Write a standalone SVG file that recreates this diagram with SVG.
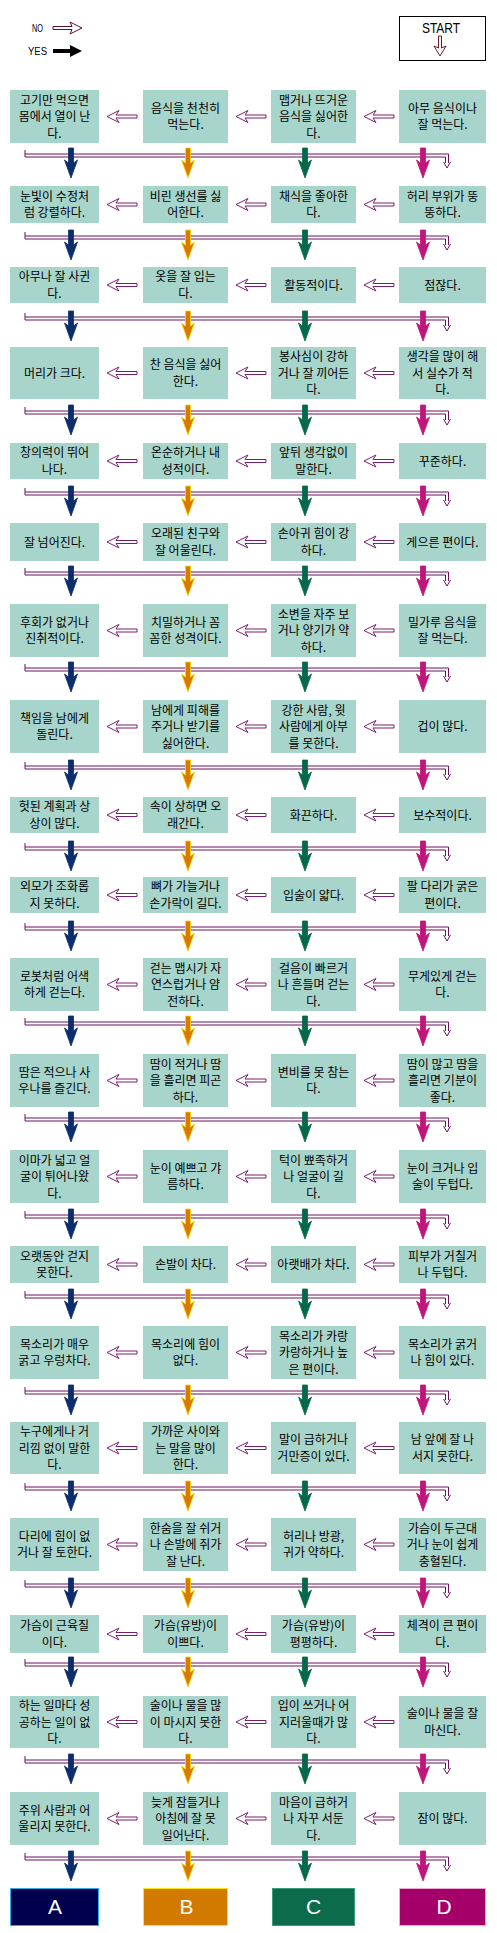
<svg xmlns="http://www.w3.org/2000/svg" xmlns:xlink="http://www.w3.org/1999/xlink" width="497" height="1933" viewBox="0 0 497 1933">
<style>
.bx{fill:#a8d5cb}
.t{font-family:"Noto Sans CJK KR","Noto Sans",sans-serif;font-size:12px;fill:#000;text-anchor:middle}
.lg{font-family:"Liberation Sans",Arial,sans-serif;fill:#000}
.ha{fill:#fff;stroke:#7a1f6e;stroke-width:1}
.bar{fill:none;stroke:#6b1060;stroke-width:1}
.va{stroke-width:0.8}
.ca{fill:#0c2d6b;stroke:#0c2d6b}
.cb{fill:#d87a00;stroke:#ffd800}
.cc{fill:#05684a;stroke:#05684a}
.cd{fill:#c0157a;stroke:#c0157a}
.res{font-family:"Liberation Sans",Arial,sans-serif;font-size:21px;fill:#fff;text-anchor:middle}
</style>
<defs>
<path id="harr" d="M0,0 L12,-6 L9,-1.5 L30,-1.5 L30,1.5 L9,1.5 L12,6 Z"/>
<path id="varr" d="M-2.5,-6 H2.5 V9 L6.5,6 L0,24 L-6.5,6 L-2.5,9 Z"/>
<g id="bar"><path d="M25,-4 V3 H445.5 V9 M25,0 H448.5 V9 M443.5,8 L447,14 L450.5,8"/></g>
</defs>
<rect width="497" height="1933" fill="#fff"/>

<g id="legend">
<text class="lg" x="32" y="32" font-size="11" textLength="11" lengthAdjust="spacingAndGlyphs">NO</text>
<path d="M53,26.5 H72 L70,22 L82,28 L70,34 L72,29.5 H53 Z" fill="#fff" stroke="#5a1030" stroke-width="1"/>
<text class="lg" x="28" y="55" font-size="11" textLength="19" lengthAdjust="spacingAndGlyphs">YES</text>
<path d="M53,49 H70 V45 L82,51 L70,57 V53 H53 Z" fill="#000"/>
</g>

<g id="start">
<rect x="399.5" y="16.5" width="86" height="44" fill="#fff" stroke="#000" stroke-width="1"/>
<text class="lg" x="422" y="33" font-size="14" textLength="38" lengthAdjust="spacingAndGlyphs">START</text>
<path d="M438.5,36 V48 L434,46 L440,56 L446,46 L441.5,48 V36 Z" fill="#fff" stroke="#6a1a30" stroke-width="1"/>
</g>

<g id="connectors">
<g class="bar">
<use xlink:href="#bar" y="154"/><use xlink:href="#bar" y="236"/><use xlink:href="#bar" y="317"/><use xlink:href="#bar" y="411"/><use xlink:href="#bar" y="492"/>
<use xlink:href="#bar" y="572"/><use xlink:href="#bar" y="668"/><use xlink:href="#bar" y="766"/><use xlink:href="#bar" y="847"/><use xlink:href="#bar" y="927"/>
<use xlink:href="#bar" y="1022"/><use xlink:href="#bar" y="1118"/><use xlink:href="#bar" y="1215"/><use xlink:href="#bar" y="1295"/><use xlink:href="#bar" y="1391"/>
<use xlink:href="#bar" y="1487"/><use xlink:href="#bar" y="1584"/><use xlink:href="#bar" y="1663"/><use xlink:href="#bar" y="1760"/><use xlink:href="#bar" y="1857"/>
</g>
<g class="ha">
<use xlink:href="#harr" x="107" y="116.5"/><use xlink:href="#harr" x="236" y="116.5"/><use xlink:href="#harr" x="364" y="116.5"/>
<use xlink:href="#harr" x="107" y="204.5"/><use xlink:href="#harr" x="236" y="204.5"/><use xlink:href="#harr" x="364" y="204.5"/>
<use xlink:href="#harr" x="107" y="285"/><use xlink:href="#harr" x="236" y="285"/><use xlink:href="#harr" x="364" y="285"/>
<use xlink:href="#harr" x="107" y="373"/><use xlink:href="#harr" x="236" y="373"/><use xlink:href="#harr" x="364" y="373"/>
<use xlink:href="#harr" x="107" y="461"/><use xlink:href="#harr" x="236" y="461"/><use xlink:href="#harr" x="364" y="461"/>
<use xlink:href="#harr" x="107" y="542"/><use xlink:href="#harr" x="236" y="542"/><use xlink:href="#harr" x="364" y="542"/>
<use xlink:href="#harr" x="107" y="630.5"/><use xlink:href="#harr" x="236" y="630.5"/><use xlink:href="#harr" x="364" y="630.5"/>
<use xlink:href="#harr" x="107" y="726.5"/><use xlink:href="#harr" x="236" y="726.5"/><use xlink:href="#harr" x="364" y="726.5"/>
<use xlink:href="#harr" x="107" y="815"/><use xlink:href="#harr" x="236" y="815"/><use xlink:href="#harr" x="364" y="815"/>
<use xlink:href="#harr" x="107" y="895"/><use xlink:href="#harr" x="236" y="895"/><use xlink:href="#harr" x="364" y="895"/>
<use xlink:href="#harr" x="107" y="984.5"/><use xlink:href="#harr" x="236" y="984.5"/><use xlink:href="#harr" x="364" y="984.5"/>
<use xlink:href="#harr" x="107" y="1080.5"/><use xlink:href="#harr" x="236" y="1080.5"/><use xlink:href="#harr" x="364" y="1080.5"/>
<use xlink:href="#harr" x="107" y="1176.5"/><use xlink:href="#harr" x="236" y="1176.5"/><use xlink:href="#harr" x="364" y="1176.5"/>
<use xlink:href="#harr" x="107" y="1264.5"/><use xlink:href="#harr" x="236" y="1264.5"/><use xlink:href="#harr" x="364" y="1264.5"/>
<use xlink:href="#harr" x="107" y="1352.5"/><use xlink:href="#harr" x="236" y="1352.5"/><use xlink:href="#harr" x="364" y="1352.5"/>
<use xlink:href="#harr" x="107" y="1448"/><use xlink:href="#harr" x="236" y="1448"/><use xlink:href="#harr" x="364" y="1448"/>
<use xlink:href="#harr" x="107" y="1544.5"/><use xlink:href="#harr" x="236" y="1544.5"/><use xlink:href="#harr" x="364" y="1544.5"/>
<use xlink:href="#harr" x="107" y="1634"/><use xlink:href="#harr" x="236" y="1634"/><use xlink:href="#harr" x="364" y="1634"/>
<use xlink:href="#harr" x="107" y="1722"/><use xlink:href="#harr" x="236" y="1722"/><use xlink:href="#harr" x="364" y="1722"/>
<use xlink:href="#harr" x="107" y="1818.5"/><use xlink:href="#harr" x="236" y="1818.5"/><use xlink:href="#harr" x="364" y="1818.5"/>
</g>
<g class="va ca">
<use xlink:href="#varr" x="71" y="154"/><use xlink:href="#varr" x="71" y="236"/><use xlink:href="#varr" x="71" y="317"/><use xlink:href="#varr" x="71" y="411"/><use xlink:href="#varr" x="71" y="492"/>
<use xlink:href="#varr" x="71" y="572"/><use xlink:href="#varr" x="71" y="668"/><use xlink:href="#varr" x="71" y="766"/><use xlink:href="#varr" x="71" y="847"/><use xlink:href="#varr" x="71" y="927"/>
<use xlink:href="#varr" x="71" y="1022"/><use xlink:href="#varr" x="71" y="1118"/><use xlink:href="#varr" x="71" y="1215"/><use xlink:href="#varr" x="71" y="1295"/><use xlink:href="#varr" x="71" y="1391"/>
<use xlink:href="#varr" x="71" y="1487"/><use xlink:href="#varr" x="71" y="1584"/><use xlink:href="#varr" x="71" y="1663"/><use xlink:href="#varr" x="71" y="1760"/><use xlink:href="#varr" x="71" y="1857"/>
</g>
<g class="va cb">
<use xlink:href="#varr" x="188" y="154"/><use xlink:href="#varr" x="188" y="236"/><use xlink:href="#varr" x="188" y="317"/><use xlink:href="#varr" x="188" y="411"/><use xlink:href="#varr" x="188" y="492"/>
<use xlink:href="#varr" x="188" y="572"/><use xlink:href="#varr" x="188" y="668"/><use xlink:href="#varr" x="188" y="766"/><use xlink:href="#varr" x="188" y="847"/><use xlink:href="#varr" x="188" y="927"/>
<use xlink:href="#varr" x="188" y="1022"/><use xlink:href="#varr" x="188" y="1118"/><use xlink:href="#varr" x="188" y="1215"/><use xlink:href="#varr" x="188" y="1295"/><use xlink:href="#varr" x="188" y="1391"/>
<use xlink:href="#varr" x="188" y="1487"/><use xlink:href="#varr" x="188" y="1584"/><use xlink:href="#varr" x="188" y="1663"/><use xlink:href="#varr" x="188" y="1760"/><use xlink:href="#varr" x="188" y="1857"/>
</g>
<g class="va cc">
<use xlink:href="#varr" x="305" y="154"/><use xlink:href="#varr" x="305" y="236"/><use xlink:href="#varr" x="305" y="317"/><use xlink:href="#varr" x="305" y="411"/><use xlink:href="#varr" x="305" y="492"/>
<use xlink:href="#varr" x="305" y="572"/><use xlink:href="#varr" x="305" y="668"/><use xlink:href="#varr" x="305" y="766"/><use xlink:href="#varr" x="305" y="847"/><use xlink:href="#varr" x="305" y="927"/>
<use xlink:href="#varr" x="305" y="1022"/><use xlink:href="#varr" x="305" y="1118"/><use xlink:href="#varr" x="305" y="1215"/><use xlink:href="#varr" x="305" y="1295"/><use xlink:href="#varr" x="305" y="1391"/>
<use xlink:href="#varr" x="305" y="1487"/><use xlink:href="#varr" x="305" y="1584"/><use xlink:href="#varr" x="305" y="1663"/><use xlink:href="#varr" x="305" y="1760"/><use xlink:href="#varr" x="305" y="1857"/>
</g>
<g class="va cd">
<use xlink:href="#varr" x="423" y="154"/><use xlink:href="#varr" x="423" y="236"/><use xlink:href="#varr" x="423" y="317"/><use xlink:href="#varr" x="423" y="411"/><use xlink:href="#varr" x="423" y="492"/>
<use xlink:href="#varr" x="423" y="572"/><use xlink:href="#varr" x="423" y="668"/><use xlink:href="#varr" x="423" y="766"/><use xlink:href="#varr" x="423" y="847"/><use xlink:href="#varr" x="423" y="927"/>
<use xlink:href="#varr" x="423" y="1022"/><use xlink:href="#varr" x="423" y="1118"/><use xlink:href="#varr" x="423" y="1215"/><use xlink:href="#varr" x="423" y="1295"/><use xlink:href="#varr" x="423" y="1391"/>
<use xlink:href="#varr" x="423" y="1487"/><use xlink:href="#varr" x="423" y="1584"/><use xlink:href="#varr" x="423" y="1663"/><use xlink:href="#varr" x="423" y="1760"/><use xlink:href="#varr" x="423" y="1857"/>
</g>
</g>

<!-- Row 1: 90-143 -->
<g id="n1a"><rect class="bx" x="10" y="90" width="89" height="53"/><text class="t" x="54.5" y="104.5">고기만 먹으면<tspan x="54.5" dy="16.5">몸에서 열이 난</tspan><tspan x="54.5" dy="16.5">다.</tspan></text></g>
<g id="n1b"><rect class="bx" x="143" y="90" width="85" height="53"/><text class="t" x="185.5" y="112.75">음식을 천천히<tspan x="185.5" dy="16.5">먹는다.</tspan></text></g>
<g id="n1c"><rect class="bx" x="271" y="90" width="85" height="53"/><text class="t" x="313.5" y="104.5">맵거나 뜨거운<tspan x="313.5" dy="16.5">음식을 싫어한</tspan><tspan x="313.5" dy="16.5">다.</tspan></text></g>
<g id="n1d"><rect class="bx" x="399" y="90" width="87" height="53"/><text class="t" x="442.5" y="112.75">아무 음식이나<tspan x="442.5" dy="16.5">잘 먹는다.</tspan></text></g>

<!-- Row 2: 186-223 -->
<g id="n2a"><rect class="bx" x="10" y="186" width="89" height="37"/><text class="t" x="54.5" y="200.75">눈빛이 수정처<tspan x="54.5" dy="16.5">럼 강렬하다.</tspan></text></g>
<g id="n2b"><rect class="bx" x="143" y="186" width="85" height="37"/><text class="t" x="185.5" y="200.75">비린 생선를 싫<tspan x="185.5" dy="16.5">어한다.</tspan></text></g>
<g id="n2c"><rect class="bx" x="271" y="186" width="85" height="37"/><text class="t" x="313.5" y="200.75">채식을 좋아한<tspan x="313.5" dy="16.5">다.</tspan></text></g>
<g id="n2d"><rect class="bx" x="399" y="186" width="87" height="37"/><text class="t" x="442.5" y="200.75">허리 부위가 뚱<tspan x="442.5" dy="16.5">뚱하다.</tspan></text></g>

<!-- Row 3: 267-303 -->
<g id="n3a"><rect class="bx" x="10" y="267" width="89" height="36"/><text class="t" x="54.5" y="281.25">아무나 잘 사귄<tspan x="54.5" dy="16.5">다.</tspan></text></g>
<g id="n3b"><rect class="bx" x="143" y="267" width="85" height="36"/><text class="t" x="185.5" y="281.25">옷을 잘 입는<tspan x="185.5" dy="16.5">다.</tspan></text></g>
<g id="n3c"><rect class="bx" x="271" y="267" width="85" height="36"/><text class="t" x="313.5" y="289.5">활동적이다.</text></g>
<g id="n3d"><rect class="bx" x="399" y="267" width="87" height="36"/><text class="t" x="442.5" y="289.5">점잖다.</text></g>

<!-- Row 4: 347-399 -->
<g id="n4a"><rect class="bx" x="10" y="347" width="89" height="52"/><text class="t" x="54.5" y="377.5">머리가 크다.</text></g>
<g id="n4b"><rect class="bx" x="143" y="347" width="85" height="52"/><text class="t" x="185.5" y="369.25">찬 음식을 싫어<tspan x="185.5" dy="16.5">한다.</tspan></text></g>
<g id="n4c"><rect class="bx" x="271" y="347" width="85" height="52"/><text class="t" x="313.5" y="361">봉사심이 강하<tspan x="313.5" dy="16.5">거나 잘 끼어든</tspan><tspan x="313.5" dy="16.5">다.</tspan></text></g>
<g id="n4d"><rect class="bx" x="399" y="347" width="87" height="52"/><text class="t" x="442.5" y="361">생각을 많이 해<tspan x="442.5" dy="16.5">서 실수가 적</tspan><tspan x="442.5" dy="16.5">다.</tspan></text></g>

<!-- Row 5: 443-479 -->
<g id="n5a"><rect class="bx" x="10" y="443" width="89" height="36"/><text class="t" x="54.5" y="457.25">창의력이 뛰어<tspan x="54.5" dy="16.5">나다.</tspan></text></g>
<g id="n5b"><rect class="bx" x="143" y="443" width="85" height="36"/><text class="t" x="185.5" y="457.25">온순하거나 내<tspan x="185.5" dy="16.5">성적이다.</tspan></text></g>
<g id="n5c"><rect class="bx" x="271" y="443" width="85" height="36"/><text class="t" x="313.5" y="457.25">앞뒤 생각없이<tspan x="313.5" dy="16.5">말한다.</tspan></text></g>
<g id="n5d"><rect class="bx" x="399" y="443" width="87" height="36"/><text class="t" x="442.5" y="465.5">꾸준하다.</text></g>

<!-- Row 6: 523-561 -->
<g id="n6a"><rect class="bx" x="10" y="523" width="89" height="38"/><text class="t" x="54.5" y="546.5">잘 넘어진다.</text></g>
<g id="n6b"><rect class="bx" x="143" y="523" width="85" height="38"/><text class="t" x="185.5" y="538.25">오래된 친구와<tspan x="185.5" dy="16.5">잘 어울린다.</tspan></text></g>
<g id="n6c"><rect class="bx" x="271" y="523" width="85" height="38"/><text class="t" x="313.5" y="538.25">손아귀 힘이 강<tspan x="313.5" dy="16.5">하다.</tspan></text></g>
<g id="n6d"><rect class="bx" x="399" y="523" width="87" height="38"/><text class="t" x="442.5" y="546.5">게으른 편이다.</text></g>

<!-- Row 7: 604-657 -->
<g id="n7a"><rect class="bx" x="10" y="604" width="89" height="53"/><text class="t" x="54.5" y="626.75">후회가 없거나<tspan x="54.5" dy="16.5">진취적이다.</tspan></text></g>
<g id="n7b"><rect class="bx" x="143" y="604" width="85" height="53"/><text class="t" x="185.5" y="626.75">치밀하거나 꼼<tspan x="185.5" dy="16.5">꼼한 성격이다.</tspan></text></g>
<g id="n7c"><rect class="bx" x="271" y="604" width="85" height="53"/><text class="t" x="313.5" y="618.5">소변을 자주 보<tspan x="313.5" dy="16.5">거나 양기가 약</tspan><tspan x="313.5" dy="16.5">하다.</tspan></text></g>
<g id="n7d"><rect class="bx" x="399" y="604" width="87" height="53"/><text class="t" x="442.5" y="626.75">밀가루 음식을<tspan x="442.5" dy="16.5">잘 먹는다.</tspan></text></g>

<!-- Row 8: 700-753 -->
<g id="n8a"><rect class="bx" x="10" y="700" width="89" height="53"/><text class="t" x="54.5" y="722.75">책임을 남에게<tspan x="54.5" dy="16.5">돌린다.</tspan></text></g>
<g id="n8b"><rect class="bx" x="143" y="700" width="85" height="53"/><text class="t" x="185.5" y="714.5">남에게 피해를<tspan x="185.5" dy="16.5">주거나 받기를</tspan><tspan x="185.5" dy="16.5">싫어한다.</tspan></text></g>
<g id="n8c"><rect class="bx" x="271" y="700" width="85" height="53"/><text class="t" x="313.5" y="714.5">강한 사람, 윗<tspan x="313.5" dy="16.5">사람에게 아부</tspan><tspan x="313.5" dy="16.5">를 못한다.</tspan></text></g>
<g id="n8d"><rect class="bx" x="399" y="700" width="87" height="53"/><text class="t" x="442.5" y="731">겁이 많다.</text></g>

<!-- Row 9: 797-833 -->
<g id="n9a"><rect class="bx" x="10" y="797" width="89" height="36"/><text class="t" x="54.5" y="811.25">헛된 계획과 상<tspan x="54.5" dy="16.5">상이 많다.</tspan></text></g>
<g id="n9b"><rect class="bx" x="143" y="797" width="85" height="36"/><text class="t" x="185.5" y="811.25">속이 상하면 오<tspan x="185.5" dy="16.5">래간다.</tspan></text></g>
<g id="n9c"><rect class="bx" x="271" y="797" width="85" height="36"/><text class="t" x="313.5" y="819.5">화끈하다.</text></g>
<g id="n9d"><rect class="bx" x="399" y="797" width="87" height="36"/><text class="t" x="442.5" y="819.5">보수적이다.</text></g>

<!-- Row 10: 877-913 -->
<g id="n10a"><rect class="bx" x="10" y="877" width="89" height="36"/><text class="t" x="54.5" y="891.25">외모가 조화롭<tspan x="54.5" dy="16.5">지 못하다.</tspan></text></g>
<g id="n10b"><rect class="bx" x="143" y="877" width="85" height="36"/><text class="t" x="185.5" y="891.25">뼈가 가늘거나<tspan x="185.5" dy="16.5">손가락이 길다.</tspan></text></g>
<g id="n10c"><rect class="bx" x="271" y="877" width="85" height="36"/><text class="t" x="313.5" y="899.5">입술이 얇다.</text></g>
<g id="n10d"><rect class="bx" x="399" y="877" width="87" height="36"/><text class="t" x="442.5" y="891.25">팔 다리가 굵은<tspan x="442.5" dy="16.5">편이다.</tspan></text></g>

<!-- Row 11: 958-1011 -->
<g id="n11a"><rect class="bx" x="10" y="958" width="89" height="53"/><text class="t" x="54.5" y="980.75">로봇처럼 어색<tspan x="54.5" dy="16.5">하게 걷는다.</tspan></text></g>
<g id="n11b"><rect class="bx" x="143" y="958" width="85" height="53"/><text class="t" x="185.5" y="972.5">걷는 맵시가 자<tspan x="185.5" dy="16.5">연스럽거나 얌</tspan><tspan x="185.5" dy="16.5">전하다.</tspan></text></g>
<g id="n11c"><rect class="bx" x="271" y="958" width="85" height="53"/><text class="t" x="313.5" y="972.5">걸음이 빠르거<tspan x="313.5" dy="16.5">나 흔들며 걷는</tspan><tspan x="313.5" dy="16.5">다.</tspan></text></g>
<g id="n11d"><rect class="bx" x="399" y="958" width="87" height="53"/><text class="t" x="442.5" y="980.75">무게있게 걷는<tspan x="442.5" dy="16.5">다.</tspan></text></g>

<!-- Row 12: 1054-1107 -->
<g id="n12a"><rect class="bx" x="10" y="1054" width="89" height="53"/><text class="t" x="54.5" y="1076.75">땀은 적으나 사<tspan x="54.5" dy="16.5">우나를 즐긴다.</tspan></text></g>
<g id="n12b"><rect class="bx" x="143" y="1054" width="85" height="53"/><text class="t" x="185.5" y="1068.5">땀이 적거나 땀<tspan x="185.5" dy="16.5">을 흘리면 피곤</tspan><tspan x="185.5" dy="16.5">하다.</tspan></text></g>
<g id="n12c"><rect class="bx" x="271" y="1054" width="85" height="53"/><text class="t" x="313.5" y="1076.75">변비를 못 참는<tspan x="313.5" dy="16.5">다.</tspan></text></g>
<g id="n12d"><rect class="bx" x="399" y="1054" width="87" height="53"/><text class="t" x="442.5" y="1068.5">땀이 많고 땀을<tspan x="442.5" dy="16.5">흘리면 기분이</tspan><tspan x="442.5" dy="16.5">좋다.</tspan></text></g>

<!-- Row 13: 1150-1203 -->
<g id="n13a"><rect class="bx" x="10" y="1150" width="89" height="53"/><text class="t" x="54.5" y="1164.5">이마가 넓고 얼<tspan x="54.5" dy="16.5">굴이 튀어나왔</tspan><tspan x="54.5" dy="16.5">다.</tspan></text></g>
<g id="n13b"><rect class="bx" x="143" y="1150" width="85" height="53"/><text class="t" x="185.5" y="1172.75">눈이 예쁘고 갸<tspan x="185.5" dy="16.5">름하다.</tspan></text></g>
<g id="n13c"><rect class="bx" x="271" y="1150" width="85" height="53"/><text class="t" x="313.5" y="1164.5">턱이 뾰족하거<tspan x="313.5" dy="16.5">나 얼굴이 길</tspan><tspan x="313.5" dy="16.5">다.</tspan></text></g>
<g id="n13d"><rect class="bx" x="399" y="1150" width="87" height="53"/><text class="t" x="442.5" y="1172.75">눈이 크거나 입<tspan x="442.5" dy="16.5">술이 두텁다.</tspan></text></g>

<!-- Row 14: 1246-1283 -->
<g id="n14a"><rect class="bx" x="10" y="1246" width="89" height="37"/><text class="t" x="54.5" y="1260.75">오랫동안 걷지<tspan x="54.5" dy="16.5">못한다.</tspan></text></g>
<g id="n14b"><rect class="bx" x="143" y="1246" width="85" height="37"/><text class="t" x="185.5" y="1269">손발이 차다.</text></g>
<g id="n14c"><rect class="bx" x="271" y="1246" width="85" height="37"/><text class="t" x="313.5" y="1269">아랫배가 차다.</text></g>
<g id="n14d"><rect class="bx" x="399" y="1246" width="87" height="37"/><text class="t" x="442.5" y="1260.75">피부가 거칠거<tspan x="442.5" dy="16.5">나 두텁다.</tspan></text></g>

<!-- Row 15: 1326-1379 -->
<g id="n15a"><rect class="bx" x="10" y="1326" width="89" height="53"/><text class="t" x="54.5" y="1348.75">목소리가 매우<tspan x="54.5" dy="16.5">굵고 우렁차다.</tspan></text></g>
<g id="n15b"><rect class="bx" x="143" y="1326" width="85" height="53"/><text class="t" x="185.5" y="1348.75">목소리에 힘이<tspan x="185.5" dy="16.5">없다.</tspan></text></g>
<g id="n15c"><rect class="bx" x="271" y="1326" width="85" height="53"/><text class="t" x="313.5" y="1340.5">목소리가 카랑<tspan x="313.5" dy="16.5">카랑하거나 높</tspan><tspan x="313.5" dy="16.5">은 편이다.</tspan></text></g>
<g id="n15d"><rect class="bx" x="399" y="1326" width="87" height="53"/><text class="t" x="442.5" y="1348.75">목소리가 굵거<tspan x="442.5" dy="16.5">나 힘이 있다.</tspan></text></g>

<!-- Row 16: 1422-1474 -->
<g id="n16a"><rect class="bx" x="10" y="1422" width="89" height="52"/><text class="t" x="54.5" y="1436">누구에게나 거<tspan x="54.5" dy="16.5">리낌 없이 말한</tspan><tspan x="54.5" dy="16.5">다.</tspan></text></g>
<g id="n16b"><rect class="bx" x="143" y="1422" width="85" height="52"/><text class="t" x="185.5" y="1436">가까운 사이와<tspan x="185.5" dy="16.5">는 말을 많이</tspan><tspan x="185.5" dy="16.5">한다.</tspan></text></g>
<g id="n16c"><rect class="bx" x="271" y="1422" width="85" height="52"/><text class="t" x="313.5" y="1444.25">말이 급하거나<tspan x="313.5" dy="16.5">거만증이 있다.</tspan></text></g>
<g id="n16d"><rect class="bx" x="399" y="1422" width="87" height="52"/><text class="t" x="442.5" y="1444.25">남 앞에 잘 나<tspan x="442.5" dy="16.5">서지 못한다.</tspan></text></g>

<!-- Row 17: 1518-1571 -->
<g id="n17a"><rect class="bx" x="10" y="1518" width="89" height="53"/><text class="t" x="54.5" y="1540.75">다리에 힘이 없<tspan x="54.5" dy="16.5">거나 잘 토한다.</tspan></text></g>
<g id="n17b"><rect class="bx" x="143" y="1518" width="85" height="53"/><text class="t" x="185.5" y="1532.5">한숨을 잘 쉬거<tspan x="185.5" dy="16.5">나 손발에 쥐가</tspan><tspan x="185.5" dy="16.5">잘 난다.</tspan></text></g>
<g id="n17c"><rect class="bx" x="271" y="1518" width="85" height="53"/><text class="t" x="313.5" y="1540.75">허리나 방광,<tspan x="313.5" dy="16.5">귀가 약하다.</tspan></text></g>
<g id="n17d"><rect class="bx" x="399" y="1518" width="87" height="53"/><text class="t" x="442.5" y="1532.5">가슴이 두근대<tspan x="442.5" dy="16.5">거나 눈이 쉽게</tspan><tspan x="442.5" dy="16.5">충혈된다.</tspan></text></g>

<!-- Row 18: 1615-1653 -->
<g id="n18a"><rect class="bx" x="10" y="1615" width="89" height="38"/><text class="t" x="54.5" y="1630.25">가슴이 근육질<tspan x="54.5" dy="16.5">이다.</tspan></text></g>
<g id="n18b"><rect class="bx" x="143" y="1615" width="85" height="38"/><text class="t" x="185.5" y="1630.25">가슴(유방)이<tspan x="185.5" dy="16.5">이쁘다.</tspan></text></g>
<g id="n18c"><rect class="bx" x="271" y="1615" width="85" height="38"/><text class="t" x="313.5" y="1630.25">가슴(유방)이<tspan x="313.5" dy="16.5">평평하다.</tspan></text></g>
<g id="n18d"><rect class="bx" x="399" y="1615" width="87" height="38"/><text class="t" x="442.5" y="1630.25">체격이 큰 편이<tspan x="442.5" dy="16.5">다.</tspan></text></g>

<!-- Row 19: 1696-1748 -->
<g id="n19a"><rect class="bx" x="10" y="1696" width="89" height="52"/><text class="t" x="54.5" y="1710">하는 일마다 성<tspan x="54.5" dy="16.5">공하는 일이 없</tspan><tspan x="54.5" dy="16.5">다.</tspan></text></g>
<g id="n19b"><rect class="bx" x="143" y="1696" width="85" height="52"/><text class="t" x="185.5" y="1710">술이나 물을 많<tspan x="185.5" dy="16.5">이 마시지 못한</tspan><tspan x="185.5" dy="16.5">다.</tspan></text></g>
<g id="n19c"><rect class="bx" x="271" y="1696" width="85" height="52"/><text class="t" x="313.5" y="1710">입이 쓰거나 어<tspan x="313.5" dy="16.5">지러울때가 많</tspan><tspan x="313.5" dy="16.5">다.</tspan></text></g>
<g id="n19d"><rect class="bx" x="399" y="1696" width="87" height="52"/><text class="t" x="442.5" y="1718.25">술이나 물을 잘<tspan x="442.5" dy="16.5">마신다.</tspan></text></g>

<!-- Row 20: 1792-1845 -->
<g id="n20a"><rect class="bx" x="10" y="1792" width="89" height="53"/><text class="t" x="54.5" y="1814.75">주위 사람과 어<tspan x="54.5" dy="16.5">울리지 못한다.</tspan></text></g>
<g id="n20b"><rect class="bx" x="143" y="1792" width="85" height="53"/><text class="t" x="185.5" y="1806.5">늦게 잠들거나<tspan x="185.5" dy="16.5">아침에 잘 못</tspan><tspan x="185.5" dy="16.5">일어난다.</tspan></text></g>
<g id="n20c"><rect class="bx" x="271" y="1792" width="85" height="53"/><text class="t" x="313.5" y="1806.5">마음이 급하거<tspan x="313.5" dy="16.5">나 자꾸 서둔</tspan><tspan x="313.5" dy="16.5">다.</tspan></text></g>
<g id="n20d"><rect class="bx" x="399" y="1792" width="87" height="53"/><text class="t" x="442.5" y="1823">잠이 많다.</text></g>

<!-- Results -->
<g id="resA"><rect x="10.5" y="1888.5" width="88" height="37" fill="#00004f" stroke="#2ab0e8" stroke-width="1"/><text class="res" x="55" y="1914">A</text></g>
<g id="resB"><rect x="143.5" y="1888.5" width="84" height="37" fill="#d27a00" stroke="#ffe800" stroke-width="1"/><text class="res" x="186.5" y="1914">B</text></g>
<g id="resC"><rect x="272.5" y="1888.5" width="82" height="37" fill="#0b6b4b" stroke="#3d9a7a" stroke-width="1"/><text class="res" x="313.5" y="1914">C</text></g>
<g id="resD"><rect x="399.5" y="1888.5" width="86" height="37" fill="#a5006a" stroke="#f0a8d4" stroke-width="1"/><text class="res" x="444" y="1914">D</text></g>
</svg>
